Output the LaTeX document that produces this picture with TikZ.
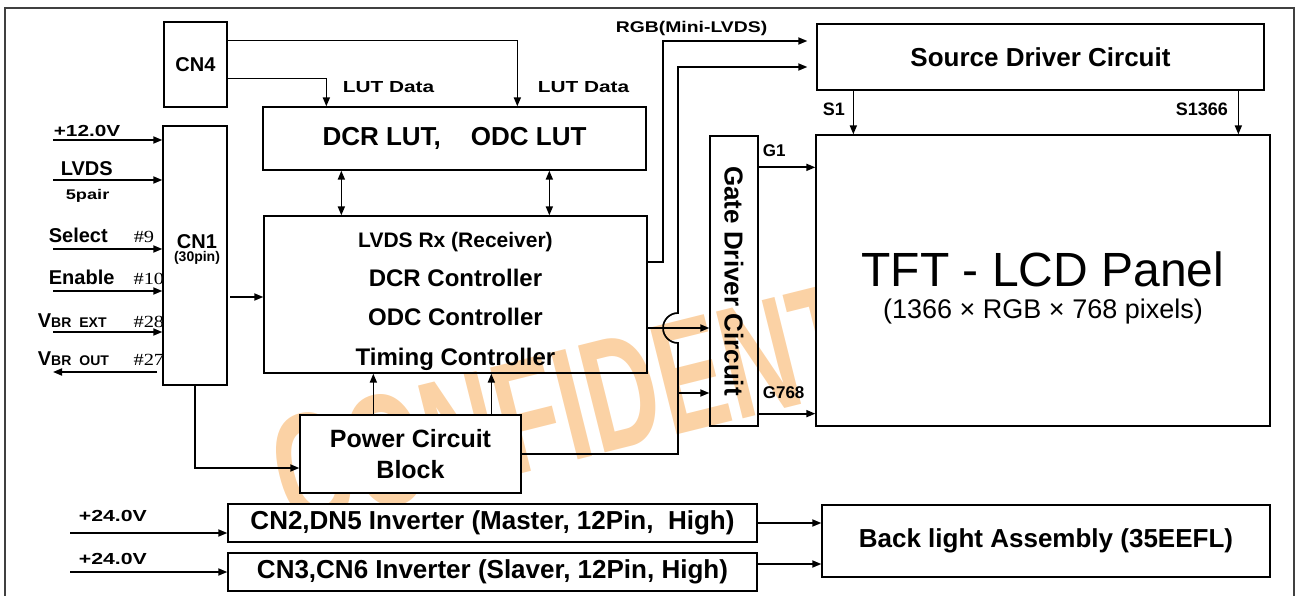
\documentclass[tikz,border=0pt]{standalone}
\usepackage{graphicx}
\usepackage{fontspec}
\setmainfont{Liberation Sans}
\newfontfamily\timesfont{Liberation Serif}
\usetikzlibrary{arrows.meta, calc, positioning}
\definecolor{wmark}{RGB}{251,210,165}
\newcommand{\fs}[1]{\fontsize{#1}{#1}\selectfont}
\newcommand{\wide}[2][1.3]{\scalebox{#1}[1]{#2}}

\begin{document}
\begin{tikzpicture}[x=1pt, y=-1pt, >={Triangle[length=9pt,width=7pt]}, line width=1.7pt,
    box/.style={draw, line width=1.3pt, inner sep=0pt, font=\bfseries\fs{26}},
    lbl/.style={inner sep=0pt, font=\bfseries\fs{20}},
    num/.style={inner sep=0pt, font=\timesfont\fs{17}}]
  \useasboundingbox (0,0) rectangle (1302,596);

  % watermark
  \node[text=wmark, inner sep=0pt, font=\bfseries\fs{160}, rotate=14] (wm) at (646,386) {\scalebox{0.64}[1]{CONFIDENTIAL}};

  % frame
  \draw[line width=1.6pt, black!75] (5,596) -- (5,8) -- (1294,8) -- (1294,596);

  % blocks
  \node[box, minimum width=63pt, minimum height=85pt] (cn4) at (195.5,64.5) {\fs{20}CN4};
  \node[box, minimum width=383pt, minimum height=63pt] (lut) at (454.5,138.5) {DCR LUT,\hspace{30pt}ODC LUT};
  \node[box, minimum width=383pt, minimum height=157pt] (ctrl) at (455.5,294.5) {};
  \node[lbl, font=\bfseries\fs{21}, anchor=base] (rx) at (455.5,248) {LVDS Rx (Receiver)};
  \foreach \txt [count=\i] in {DCR Controller, ODC Controller, Timing Controller}
    \node[lbl, font=\bfseries\fs{24}, anchor=base] (ctl\i) at (455.5,248+39*\i) {\txt};
  \node[box, minimum width=64pt, minimum height=259pt] (cn1) at (195,255.5) {};
  \node[lbl, anchor=base] (cn1a) at (197,249) {CN1};
  \node[lbl, font=\bfseries\fs{14}, anchor=base] (cn1b) at (197,262) {(30pin)};
  \node[box, fill=white, minimum width=221pt, minimum height=78pt, align=center,
        font=\bfseries\fs{25}] (pwr) at (410.5,454) {Power Circuit\\[6pt]Block};
  \node[box, minimum width=48pt, minimum height=290pt] (gate) at (734,281) {};
  \node[lbl, font=\bfseries\fs{26}, rotate=-90] (gatet) at (gate.center) {Gate Driver Circuit};
  \node[box, minimum width=447pt, minimum height=66pt] (src) at (1040.5,57) {Source Driver Circuit};
  \node[box, fill=white, minimum width=454pt, minimum height=291pt] (tft) at (1043,280.5) {};
  \node[inner sep=0pt, font=\fs{48}, anchor=base] (tftt) at (1043,287) {TFT - LCD Panel};
  \node[inner sep=0pt, font=\fs{27}, anchor=base] (tfts) at (1043,319) {(1366 × RGB × 768 pixels)};
  \node[box, fill=white, minimum width=529pt, minimum height=38pt] (cn2) at (492.5,523) {CN2,DN5 Inverter (Master, 12Pin,\ \ High)};
  \node[box, fill=white, minimum width=529pt, minimum height=38pt] (cn3) at (492.5,572) {CN3,CN6 Inverter (Slaver, 12Pin, High)};
  \node[box, fill=white, minimum width=448pt, minimum height=72pt] (blt) at (1046,541) {Back light Assembly (35EEFL)};

  % inputs of CN1
  \foreach \y [count=\i] in {140,180,249,291,332} {
    \coordinate (in\i) at (53,\y);
    \draw[->] (in\i) -- (in\i -| cn1.west);
  }
  \coordinate (vout) at (157,372);
  \coordinate (voutend) at (53,372);
  \draw[->] (vout) -- (voutend);

  \node[lbl, font=\bfseries\fs{16}, anchor=base west] (l12) at (53,137) {\wide{+12.0V}};
  \node[lbl, anchor=base west] (llvds) at (60,176) {LVDS};
  \node[lbl, font=\bfseries\fs{14}, anchor=base west] (l5p) at (65,200) {\wide{5pair}};
  \node[lbl, anchor=base west] (lsel) at (48,243) {Select};
  \node[lbl, anchor=base west] (lena) at (48,285) {Enable};
  \node[lbl, anchor=base west] (lext) at (37,327) {V{\fs{14}BR\hspace{8pt}EXT}};
  \node[lbl, anchor=base west] (lout) at (37,365) {V{\fs{14}BR\hspace{8pt}OUT}};
  \node[num, anchor=base east] (p9) at (155,243) {\wide[1.2]{\#9}};
  \node[num, anchor=base east] (p10) at (165,285) {\wide[1.2]{\#10}};
  \node[num, anchor=base east] (p28) at (165,327) {\wide[1.2]{\#28}};
  \node[num, anchor=base east] (p27) at (165,365) {\wide[1.2]{\#27}};

  % CN1 to controller and power block
  \coordinate (c1out) at (230,297);
  \draw[->] (c1out) -- (c1out -| ctrl.west);
  \draw[->] (cn1.south) |- ($(pwr.west)+(0,14)$);

  % CN4 to LUT
  \draw[->] ($(cn4.east)+(0,-24)$) -| ($(lut.north west)+(255,0)$);
  \draw[->] ($(cn4.east)+(0,14)$) -| ($(lut.north west)+(64,0)$);
  \node[lbl, font=\bfseries\fs{16}, anchor=base west] (lut1) at (342,93) {\wide{LUT Data}};
  \node[lbl, font=\bfseries\fs{16}, anchor=base west] (lut2) at (537,93) {\wide{LUT Data}};

  % LUT <-> controller
  \draw[<->] ($(lut.south west)+(79,0)$) -- ($(ctrl.north west)+(78,0)$);
  \draw[<->] ($(lut.south west)+(287,0)$) -- ($(ctrl.north west)+(286,0)$);

  % power block to controller
  \draw[->] ($(pwr.north west)+(74,0)$) -- ($(ctrl.south west)+(110,0)$);
  \draw[->] ($(pwr.north west)+(192,0)$) -- ($(ctrl.south west)+(228,0)$);

  % controller and power block to the drivers
  \coordinate (rgbout) at ($(ctrl.north east)+(0,47)$);
  \draw[->, shorten >=9pt] (rgbout) -- ++(15,0) |- ($(src.west)+(0,-16)$);
  \node[lbl, font=\bfseries\fs{15.5}, anchor=base west] (rgb) at (615,33) {\wide[1.25]{RGB(Mini-LVDS)}};
  \coordinate (hop) at (678,328);
  \draw[->, shorten >=9pt] (pwr.east) -| ($(hop)+(0,15)$)
    arc[start angle=270, end angle=90, radius=15pt] |- ($(src.west)+(0,10)$);
  \draw[->] (ctrl.east |- hop) -- (hop -| gate.west);
  \coordinate (gtap) at ($(hop)+(0,65)$);
  \draw[->] (gtap) -- (gtap -| gate.west);

  % drivers to panel
  \coordinate (s1) at ($(src.south west)+(37,0)$);
  \coordinate (s2) at ($(src.south west)+(422,0)$);
  \draw[->] (s1) -- (s1 |- tft.north);
  \draw[->] (s2) -- (s2 |- tft.north);
  \node[lbl, font=\bfseries\fs{18}, anchor=base west] (ls1) at (822,116) {S1};
  \node[lbl, font=\bfseries\fs{18}, anchor=base west] (ls2) at (1175,116) {S1366};
  \coordinate (g1) at ($(gate.north east)+(0,32)$);
  \coordinate (g2) at ($(gate.south east)+(0,-13)$);
  \draw[->] (g1) -- (g1 -| tft.west);
  \draw[->] (g2) -- (g2 -| tft.west);
  \node[lbl, font=\bfseries\fs{17}, anchor=base west] (lg1) at (762,157) {G1};
  \node[lbl, font=\bfseries\fs{17}, anchor=base west] (lg2) at (762,398) {G768};

  % inverters and back light
  \coordinate (v24a) at (70,533);
  \coordinate (v24b) at (70,572);
  \draw[->] (v24a) -- (v24a -| cn2.west);
  \draw[->] (v24b) -- (v24b -| cn3.west);
  \node[lbl, font=\bfseries\fs{16}, anchor=base west] (l24a) at (78,521) {\wide[1.33]{+24.0V}};
  \node[lbl, font=\bfseries\fs{16}, anchor=base west] (l24b) at (78,564) {\wide[1.33]{+24.0V}};
  \coordinate (c3o) at ($(cn3.east)+(0,-8)$);
  \draw[->] (cn2.east) -- (cn2.east -| blt.west);
  \draw[->] (c3o) -- (c3o -| blt.west);
\end{tikzpicture}
\end{document}
